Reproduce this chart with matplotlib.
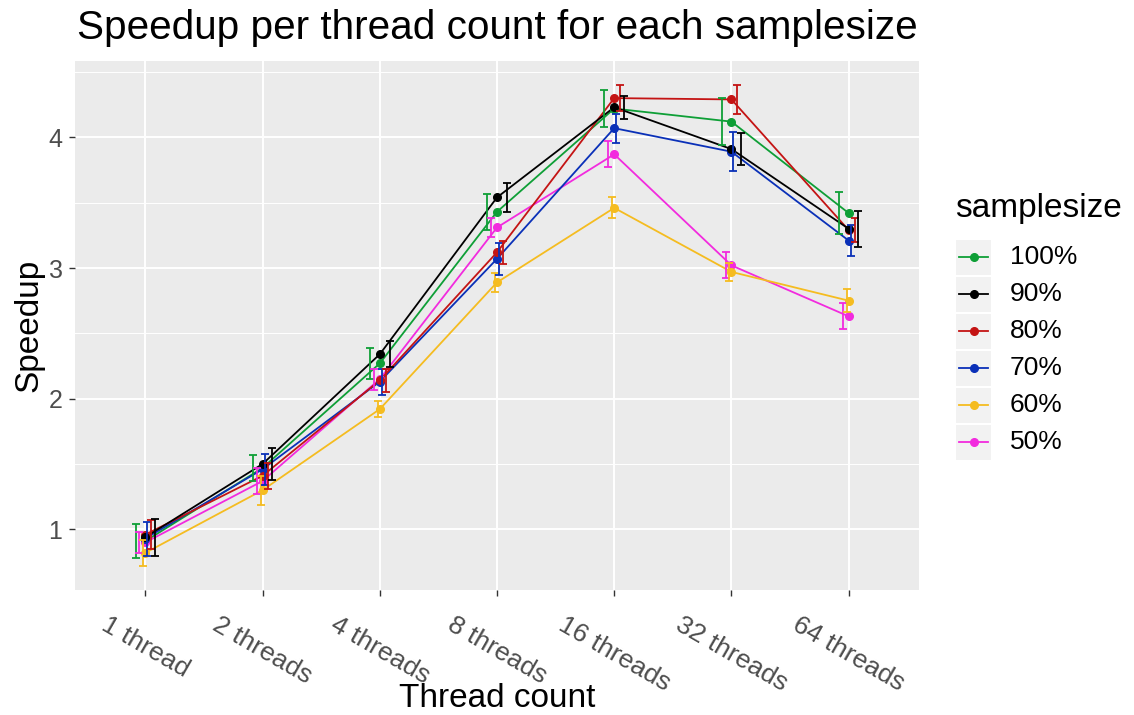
import matplotlib
matplotlib.use("Agg")
import matplotlib.pyplot as plt
from matplotlib.lines import Line2D
from matplotlib.patches import Rectangle
import numpy as np

plt.rcParams["font.family"] = ["Liberation Sans", "DejaVu Sans"]

# ── Data (mean speedup and sd per thread count) ──────────────────────────────
threads = ["1 thread", "2 threads", "4 threads", "8 threads",
           "16 threads", "32 threads", "64 threads"]
sizes = ["100%", "90%", "80%", "70%", "60%", "50%"]

mean_100 = [0.91, 1.47, 2.27, 3.43, 4.22, 4.12, 3.42]
sd_100   = [0.13, 0.10, 0.12, 0.14, 0.14, 0.18, 0.16]
mean_90  = [0.94, 1.50, 2.34, 3.54, 4.23, 3.91, 3.30]
sd_90    = [0.14, 0.12, 0.10, 0.11, 0.09, 0.12, 0.14]
mean_80  = [0.96, 1.41, 2.14, 3.12, 4.30, 4.29, 3.29]
sd_80    = [0.11, 0.10, 0.09, 0.09, 0.10, 0.11, 0.09]
mean_70  = [0.93, 1.46, 2.13, 3.07, 4.07, 3.89, 3.21]
sd_70    = [0.13, 0.12, 0.10, 0.12, 0.11, 0.15, 0.12]
mean_60  = [0.82, 1.30, 1.92, 2.89, 3.46, 2.97, 2.75]
sd_60    = [0.10, 0.11, 0.06, 0.07, 0.08, 0.07, 0.09]
mean_50  = [0.90, 1.37, 2.15, 3.31, 3.87, 3.02, 2.63]
sd_50    = [0.08, 0.10, 0.08, 0.07, 0.10, 0.10, 0.10]

means = {"100%": mean_100, "90%": mean_90, "80%": mean_80,
         "70%": mean_70, "60%": mean_60, "50%": mean_50}
sds = {"100%": sd_100, "90%": sd_90, "80%": sd_80,
       "70%": sd_70, "60%": sd_60, "50%": sd_50}

colors = {"100%": "#0E9F36", "90%": "#000000", "80%": "#C41414",
          "70%": "#0A30B8", "60%": "#F5BC20", "50%": "#F22BDE"}

# ── Figure ───────────────────────────────────────────────────────────────────
W, H = 1134, 715
fig = plt.figure(figsize=(W / 100, H / 100), dpi=100, facecolor="white")


def fx(px):
    return px / W


def fy(py):
    return 1 - py / H


ax = fig.add_axes([fx(75), fy(590), fx(919) - fx(75), fy(61) - fy(590)])
ax.set_facecolor("#EBEBEB")
for s in ax.spines.values():
    s.set_visible(False)

x = np.arange(len(threads))
# ggplot dodges groups in alphabetical level order
dodge_order = sorted(sizes)
dodge_w = 0.2
offsets = {s: (i - (len(dodge_order) - 1) / 2) * dodge_w / len(dodge_order)
           for i, s in enumerate(dodge_order)}

for s in dodge_order:
    m = np.array(means[s])
    e = np.array(sds[s])
    c = colors[s]
    ax.plot(x, m, color=c, lw=1.3, zorder=3)
    ax.plot(x, m, "o", color=c, ms=5.5, zorder=4)
    ax.errorbar(x + offsets[s], m, yerr=e, fmt="none", ecolor=c,
                elinewidth=1.3, capsize=3, capthick=1.3, zorder=5)

lo = min(np.min(np.array(means[s]) - np.array(sds[s])) for s in sizes)
hi = max(np.max(np.array(means[s]) + np.array(sds[s])) for s in sizes)
pad = (hi - lo) * 0.05
ax.set_ylim(lo - pad, hi + pad)
ax.set_xlim(-0.6, len(threads) - 1 + 0.6)

ax.set_yticks([1, 2, 3, 4])
ax.set_yticks([1.5, 2.5, 3.5, 4.5], minor=True)
ax.set_xticks(x)
ax.grid(True, which="major", color="white", lw=1.4, zorder=0)
ax.grid(True, which="minor", axis="y", color="white", lw=0.7, zorder=0)
ax.set_axisbelow(True)
ax.tick_params(which="minor", length=0)
ax.tick_params(which="major", length=4, width=1, color="#333333",
               labelcolor="#4D4D4D", labelsize=18, pad=5)
ax.set_yticklabels(["1", "2", "3", "4"])
ax.set_xticklabels(threads, rotation=-30, ha="center", va="top",
                   rotation_mode="default", fontsize=19)
ax.tick_params(axis="x", pad=12)

# ── Titles ───────────────────────────────────────────────────────────────────
fig.text(fx(77), fy(39), "Speedup per thread count for each samplesize",
         fontsize=29.2, va="baseline", ha="left", color="black")
fig.text(fx(497), fy(707), "Thread count", fontsize=24,
         va="baseline", ha="center", color="black")
fig.text(fx(13), fy(325), "Speedup", fontsize=24, rotation=90,
         va="center", ha="left", color="black")

# ── Legend ───────────────────────────────────────────────────────────────────
fig.text(fx(955), fy(217), "samplesize", fontsize=24,
         va="baseline", ha="left", color="black")
for i, s in enumerate(sizes):
    cy = 257 + 37 * i
    fig.patches.append(Rectangle((fx(956), fy(cy + 17.5)), fx(35), 35 / H,
                                 transform=fig.transFigure,
                                 facecolor="#F2F2F2", edgecolor="none"))
    fig.lines.append(Line2D([fx(959), fx(988)], [fy(cy), fy(cy)],
                            transform=fig.transFigure, color=colors[s],
                            lw=1.3))
    fig.lines.append(Line2D([fx(973.5)], [fy(cy)], transform=fig.transFigure,
                            marker="o", ms=5.5, color=colors[s]))
    fig.text(fx(1010), fy(cy), s, fontsize=19, va="center", ha="left",
             color="black")

fig.savefig("out.png", dpi=100, facecolor="white")
